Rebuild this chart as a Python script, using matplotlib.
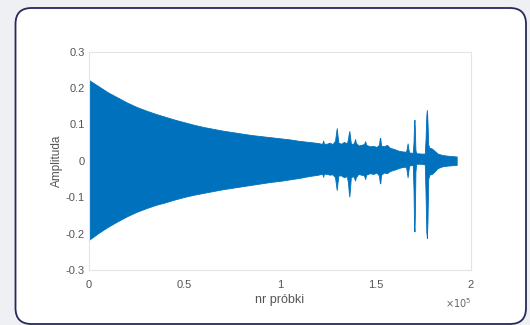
import matplotlib
matplotlib.use("Agg")
import matplotlib.pyplot as plt
from matplotlib.patches import FancyBboxPatch
from matplotlib.transforms import IdentityTransform

# Envelope of the waveform (x in units of 1e5 samples)
env_x = [0.00, 0.05, 0.10, 0.15, 0.20, 0.25, 0.30, 0.35, 0.40, 0.45, 0.50, 0.55, 0.60,
         0.65, 0.70, 0.75, 0.80, 0.85, 0.90, 0.95, 1.00, 1.05, 1.10, 1.15,
         1.200, 1.215, 1.222, 1.226, 1.230, 1.245, 1.260, 1.275, 1.288, 1.293, 1.297,
         1.301, 1.306, 1.320, 1.335, 1.350, 1.356, 1.360, 1.363, 1.366, 1.371, 1.382,
         1.389, 1.393, 1.397, 1.410, 1.425, 1.440, 1.446, 1.451, 1.470, 1.490, 1.505,
         1.518, 1.522, 1.525, 1.529, 1.545, 1.560, 1.575, 1.600, 1.620, 1.640, 1.660,
         1.664, 1.668, 1.672, 1.676, 1.695, 1.699, 1.702, 1.704, 1.706, 1.709, 1.713,
         1.740, 1.758, 1.762, 1.766, 1.769, 1.772, 1.776, 1.782, 1.795, 1.808, 1.825,
         1.850, 1.880, 1.925]
env_upper = [0.222, 0.205, 0.188, 0.174, 0.160, 0.148, 0.138, 0.129, 0.121, 0.113, 0.106,
             0.099, 0.093, 0.088, 0.083, 0.079, 0.075, 0.071, 0.068, 0.065, 0.062, 0.059,
             0.055, 0.052,
             0.049, 0.047, 0.048, 0.056, 0.047, 0.047, 0.050, 0.046, 0.055, 0.075, 0.090,
             0.070, 0.050, 0.047, 0.052, 0.048, 0.060, 0.075, 0.082, 0.070, 0.048, 0.046,
             0.052, 0.060, 0.050, 0.042, 0.044, 0.046, 0.054, 0.044, 0.040, 0.041, 0.038,
             0.044, 0.060, 0.063, 0.042, 0.040, 0.044, 0.036, 0.032, 0.028, 0.026, 0.025,
             0.035, 0.048, 0.033, 0.023, 0.022, 0.050, 0.105, 0.113, 0.090, 0.030, 0.021,
             0.020, 0.020, 0.060, 0.125, 0.140, 0.110, 0.045, 0.036, 0.034, 0.028, 0.020,
             0.016, 0.014, 0.012]
env_lower = [-0.217, -0.198, -0.181, -0.166, -0.152, -0.140, -0.130, -0.121, -0.114, -0.106,
             -0.099, -0.093, -0.088, -0.083, -0.078, -0.074, -0.070, -0.066, -0.062, -0.058,
             -0.055, -0.051, -0.047, -0.042,
             -0.038, -0.036, -0.036, -0.044, -0.035, -0.036, -0.038, -0.037, -0.045, -0.065,
             -0.080, -0.060, -0.040, -0.040, -0.045, -0.042, -0.060, -0.085, -0.098, -0.080,
             -0.045, -0.042, -0.048, -0.054, -0.045, -0.036, -0.038, -0.040, -0.050, -0.038,
             -0.034, -0.036, -0.032, -0.040, -0.058, -0.062, -0.038, -0.032, -0.034, -0.028,
             -0.024, -0.020, -0.017, -0.016, -0.030, -0.045, -0.028, -0.013, -0.011, -0.080,
             -0.180, -0.194, -0.150, -0.030, -0.008, -0.008, -0.010, -0.090, -0.195, -0.212,
             -0.170, -0.050, -0.038, -0.036, -0.030, -0.020, -0.015, -0.013, -0.011]

x_ticks = [0, 0.5, 1, 1.5, 2]
x_tick_labels = ["0", "0.5", "1", "1.5", "2"]
y_ticks = [-0.3, -0.2, -0.1, 0, 0.1, 0.2, 0.3]
y_tick_labels = ["-0.3", "-0.2", "-0.1", "0", "0.1", "0.2", "0.3"]

plt.rcParams['font.family'] = ['Liberation Sans', 'DejaVu Sans']

W, H = 530, 325
fig = plt.figure(figsize=(W / 100, H / 100), dpi=100)
fig.patch.set_facecolor('#eff0f4')

frame = FancyBboxPatch((15.5, 1.0), 510.5, 316.0,
                       boxstyle="round,pad=0,rounding_size=16",
                       transform=IdentityTransform(), facecolor='white',
                       edgecolor='#27295a', linewidth=1.3, zorder=-5)
fig.patches.append(frame)

ax = fig.add_axes([89 / W, 1 - 270 / H, (471 - 89) / W, (270 - 51.7) / H])
ax.set_zorder(2)
ax.set_facecolor('white')
ax.fill_between(env_x, env_lower, env_upper, color='#0072BD', linewidth=0.6,
                edgecolor='#0072BD')
ax.set_xlim(0, 2)
ax.set_ylim(-0.3, 0.3)
ax.set_xticks(x_ticks)
ax.set_xticklabels(x_tick_labels)
ax.set_yticks(y_ticks)
ax.set_yticklabels(y_tick_labels)
ax.tick_params(axis='both', length=0, labelsize=8, labelcolor='#555555')
ax.tick_params(axis='x', pad=7)
ax.tick_params(axis='y', pad=3)
for s in ax.spines.values():
    s.set_color('#e4e4e4')
    s.set_linewidth(0.8)
ax.set_xlabel('nr próbki', fontsize=9, color='#555555', labelpad=3)
ax.set_ylabel('Amplituda', fontsize=8.5, color='#555555', labelpad=2)
ax.text(1.0, -0.15, r'$\times10^{5}$', transform=ax.transAxes, fontsize=7,
        color='#666666', ha='right', va='center')

fig.savefig('out.png', dpi=100, facecolor=fig.get_facecolor())
